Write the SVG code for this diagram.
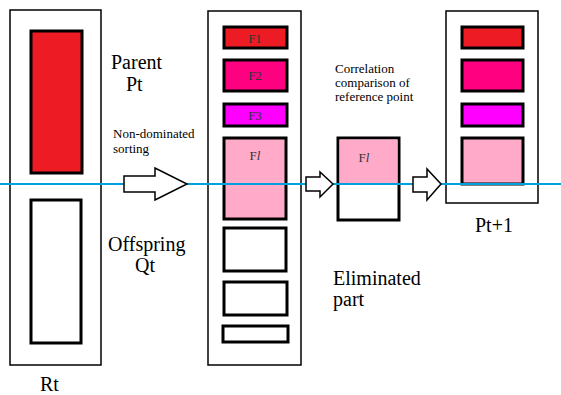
<svg xmlns="http://www.w3.org/2000/svg" width="561" height="395" viewBox="0 0 561 395">
<style>
.box{fill:#fff;stroke:#000;stroke-width:1.5}
.in{stroke:#000;stroke-width:3}
text{font-family:'Liberation Serif','Times New Roman','DejaVu Serif',serif;fill:#000}
.big{font-size:20px}
.sm{font-size:13px}
.lab{font-size:13px;text-anchor:middle;fill:#333}
.arr{fill:#fff;stroke:#000;stroke-width:1.5;stroke-linejoin:miter}
.red{fill:#ed1c24}.f2{fill:#ff0080}.f3{fill:#ff00ff}.pk{fill:#ffaac9}.wh{fill:#fff}
</style>
<rect width="561" height="395" fill="#fff"/>
<g id="Rt">
<rect class="box" x="10" y="10" width="91" height="355"/>
<rect class="in red" x="31" y="31" width="51" height="142"/>
<rect class="in wh" x="31" y="200" width="50" height="143"/>
<text class="big" x="40" y="391">Rt</text>
</g>
<g id="labels-left">
<text class="big" x="111" y="69">Parent</text>
<text class="big" x="126" y="91">Pt</text>
<text class="sm" x="113" y="138">Non-dominated</text>
<text class="sm" x="113" y="153">sorting</text>
<text class="big" x="108" y="251">Offspring</text>
<text class="big" x="135" y="272">Qt</text>
</g>
<g id="sorted">
<rect class="box" x="208" y="11" width="93" height="354"/>
<rect class="in red" x="224" y="27" width="63" height="21"/>
<text class="lab" x="255" y="43">F1</text>
<rect class="in f2" x="224" y="60" width="63" height="31"/>
<text class="lab" x="255" y="80">F2</text>
<rect class="in f3" x="224" y="104" width="63" height="22"/>
<text class="lab" x="255" y="120">F3</text>
<rect class="in pk" x="224" y="138" width="62" height="81"/>
<text class="lab" x="255" y="160">F<tspan font-style="italic">l</tspan></text>
<rect class="in wh" x="224" y="228" width="62" height="43"/>
<rect class="in wh" x="224" y="282" width="63" height="33"/>
<rect class="in wh" x="223" y="326" width="65" height="16"/>
</g>
<g id="middle">
<text class="sm" x="335" y="73">Correlation</text>
<text class="sm" x="335" y="87">comparison of</text>
<text class="sm" x="335" y="101">reference point</text>
<rect class="in wh" x="338" y="138" width="61" height="82"/>
<rect class="pk" x="339.5" y="139.5" width="58" height="44.5"/>
<text class="lab" x="364" y="162">F<tspan font-style="italic">l</tspan></text>
<text class="big" x="333" y="285">Eliminated</text>
<text class="big" x="333" y="306">part</text>
</g>
<g id="Pt1">
<rect class="box" x="446" y="11" width="92" height="192"/>
<rect class="in red" x="462" y="27" width="61" height="21"/>
<rect class="in f2" x="462" y="60" width="61" height="31"/>
<rect class="in f3" x="462" y="104" width="61" height="22"/>
<rect class="in pk" x="462" y="138" width="61" height="46"/>
<text class="big" x="475" y="232">Pt+1</text>
</g>
<g id="connectors">
<line x1="0" y1="184" x2="561" y2="184" stroke="#00a0e0" stroke-width="2"/>
<polygon class="arr" points="124,176 155,176 155,168 187,184 155,200 155,192 124,192"/>
<polygon class="arr" points="306,177 320,177 320,172 333,184 320,197 320,191 306,191"/>
<polygon class="arr" points="413,177 427,177 427,169 441,184 427,200 427,192 413,192"/>
</g>
</svg>
